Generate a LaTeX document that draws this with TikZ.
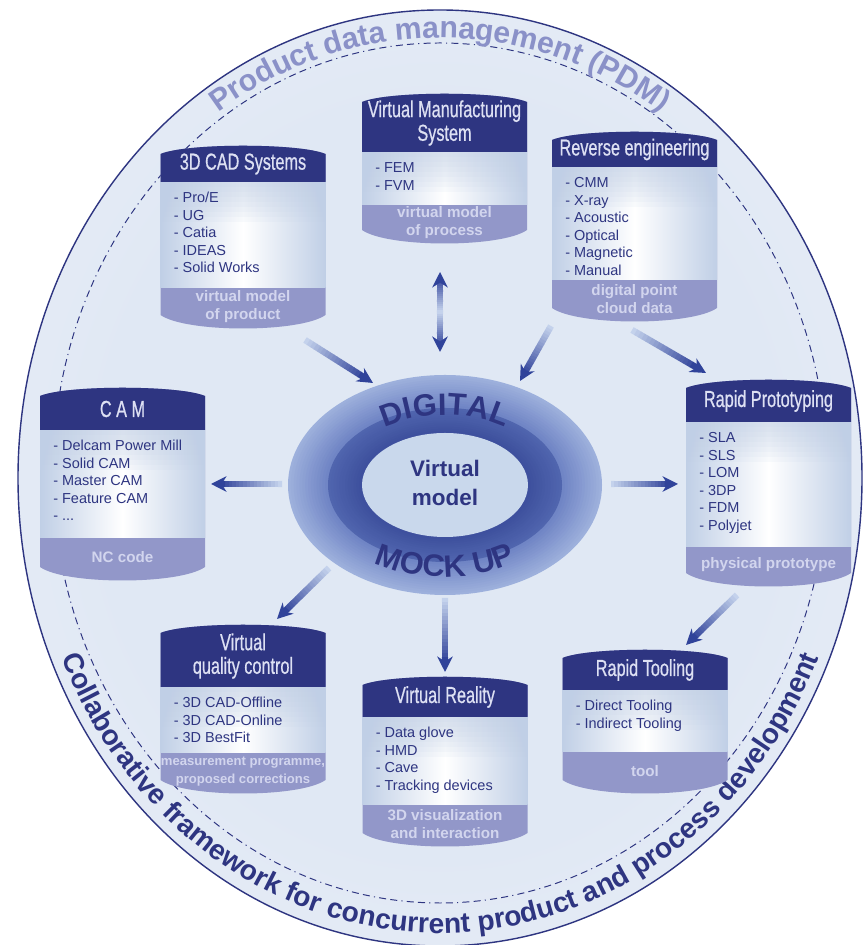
\documentclass[tikz,border=0pt]{standalone}
\usepackage{fontspec}
\setmainfont{Liberation Sans}
\newfontfamily\narrowfont[FakeStretch=0.70, FakeBold=0.6]{Liberation Sans}
\usetikzlibrary{calc,arrows.meta,decorations.text}

\definecolor{navy}{HTML}{2E3581}
\definecolor{headtext}{HTML}{DDE0F3}
\definecolor{band}{HTML}{9297C9}
\definecolor{bandtext}{HTML}{D2D5EE}
\definecolor{bodyedge}{HTML}{C0CFE6}
\definecolor{pdmtext}{HTML}{8A91C8}
\definecolor{arrowtail}{HTML}{C4D2EC}
\definecolor{arrowhead}{HTML}{30439A}
\definecolor{ringlight}{HTML}{9DB0DC}
\definecolor{ringmid}{HTML}{6C81C3}
\definecolor{ringdark}{HTML}{5065AE}
\definecolor{ringdeep}{HTML}{3C4E9C}
\definecolor{corelight}{HTML}{C9D8EC}
\definecolor{bgcore}{HTML}{E0E8F4}
\definecolor{bgedge}{HTML}{F4F7FB}

\pgfdeclareradialshading{frameglow}{\pgfpoint{0bp}{0bp}}{color(0bp)=(bgcore); color(20bp)=(bgcore); color(50bp)=(bgedge)}

\newcommand{\pdmfont}{\bfseries\fontsize{21.5}{24}\selectfont}
\newcommand{\cpdfont}{\bfseries\fontsize{20}{22}\selectfont}
\newcommand{\dmufont}{\bfseries\fontsize{22}{24}\selectfont}
\newcommand{\tightband}{\fontsize{9.3}{13.5}\selectfont}

% cylinder: name, centre x, top, header bottom, body bottom, bottom, title, items, output
\newcommand{\dbbox}[9]{%
  \fill[band] (#2-82.5,#6) -- (#2-82.5,#3)
    .. controls (#2-57,#3+11) and (#2+57,#3+11) .. (#2+82.5,#3)
    -- (#2+82.5,#6) .. controls (#2+57,#6-18) and (#2-57,#6-18) .. (#2-82.5,#6) -- cycle;
  \shade[left color=bodyedge, right color=bodyedge, middle color=white] (#2-82.5,#5) rectangle (#2+82.5,#4);
  \foreach \s in {1,...,8}
    \fill[bodyedge, opacity=0.1] (#2-82.5,#4) rectangle (#2+82.5,{#4-5*\s});
  \fill[navy] (#2-82.5,#4) -- (#2-82.5,#3)
    .. controls (#2-57,#3+11) and (#2+57,#3+11) .. (#2+82.5,#3) -- (#2+82.5,#4) -- cycle;
  \node[boxtitle] (#1-title) at (#2,{(#3+#4)/2+4}) {#7};
  \foreach \entry [count=\itemno] in {#8}
    \node[boxitem] (#1-item\itemno) at (#2-69.5,{#4-21-17.5*(\itemno-1)}) {- \entry};
  \node[boxoutput] (#1-output) at (#2,{(#5+#6)/2-5}) {#9};
}

% shaded arrow, light at the tail
\newcommand{\flowarrow}[2]{%
  \foreach \k in {0,...,15}{%
    \pgfmathsetmacro{\fa}{\k/20}
    \pgfmathsetmacro{\fb}{(\k+1)/20+0.005}
    \pgfmathtruncatemacro{\mixpc}{\k*6}
    \draw[line width=4.6pt, arrowhead!\mixpc!arrowtail] ($(#1)!\fa!(#2)$) -- ($(#1)!\fb!(#2)$);
  }
  \draw[line width=4.6pt, arrowhead, -{Stealth[length=11pt, width=11pt]}] ($(#1)!0.8!(#2)$) -- (#2);
}

\begin{document}
\begin{tikzpicture}[x=0.025cm, y=0.025cm,
    boxtitle/.style={text=headtext, font=\narrowfont\fontsize{16.5}{16.8}\selectfont, align=center, inner sep=0},
    boxitem/.style={text=navy, font=\fontsize{10.3}{12.4}\selectfont, inner sep=0, anchor=base west},
    boxoutput/.style={text=bandtext, font=\bfseries\fontsize{10.8}{12.8}\selectfont, align=center, inner sep=0}]

    \fill[white] (0,0) rectangle (866,945);
    \useasboundingbox (0,0) rectangle (866,945);

    % frame
    \shade[shading=frameglow] (440,467) ellipse [x radius=422, y radius=468];
    \draw[navy, line width=1pt] (440,467) ellipse [x radius=422, y radius=468];
    \draw[navy, line width=0.7pt, dash pattern=on 5pt off 3pt on 5pt off 3pt on 0.8pt off 3pt]
        (440,472) ellipse [x radius=387, y radius=430];

    \path[decorate, decoration={text along path, text={|\pdmfont|Product data management (PDM)},
        text align=center, text color=pdmtext}]
        (440,467) ++(160:398 and 440) arc [start angle=160, end angle=20, x radius=398, y radius=440];
    \path[decorate, decoration={text along path,
        text={|\cpdfont|Collaborative framework for concurrent product and process development},
        text align=center, text color=navy}]
        (440,467) ++(190:412 and 455) arc [start angle=190, end angle=350, x radius=412, y radius=455];

    % arrow ends
    \coordinate (cad-out) at (305,605);
    \coordinate (dmu-nw) at (373,562);
    \coordinate (vms-out) at (440,673);
    \coordinate (vms-mid) at (440,633);
    \coordinate (dmu-n) at (440,593);
    \coordinate (rev-out) at (551,619);
    \coordinate (dmu-ne) at (520,564);
    \coordinate (rev-rp) at (632,615);
    \coordinate (rp-in) at (706,572);
    \coordinate (dmu-w) at (282,461);
    \coordinate (cam-in) at (211,461);
    \coordinate (dmu-e) at (611,461);
    \coordinate (rp-w) at (678,461);
    \coordinate (dmu-sw) at (329,377);
    \coordinate (vqc-in) at (277,326);
    \coordinate (dmu-s) at (445,347);
    \coordinate (vr-in) at (445,273);
    \coordinate (rp-out) at (737,350);
    \coordinate (rt-in) at (686,300);

    \flowarrow{cad-out}{dmu-nw}
    \flowarrow{vms-mid}{vms-out}
    \flowarrow{vms-mid}{dmu-n}
    \flowarrow{rev-out}{dmu-ne}
    \flowarrow{rev-rp}{rp-in}
    \flowarrow{dmu-w}{cam-in}
    \flowarrow{dmu-e}{rp-w}
    \flowarrow{dmu-sw}{vqc-in}
    \flowarrow{dmu-s}{vr-in}
    \flowarrow{rp-out}{rt-in}

    % digital mock up: outer ring, dark ring, core
    \foreach \s in {0,...,14}{
        \pgfmathsetmacro{\rx}{157-40*\s/14}
        \pgfmathsetmacro{\ry}{110-33*\s/14}
        \pgfmathtruncatemacro{\pc}{100*\s/14}
        \fill[ringmid!\pc!ringlight] (445,460) ellipse [x radius=\rx, y radius=\ry];
    }
    \foreach \s in {0,...,12}{
        \pgfmathsetmacro{\rx}{117-34*\s/12}
        \pgfmathsetmacro{\ry}{77-25*\s/12}
        \pgfmathtruncatemacro{\pc}{100*\s/12}
        \fill[ringdeep!\pc!ringdark] (445,460) ellipse [x radius=\rx, y radius=\ry];
    }
    \fill[corelight] (445,460) ellipse [x radius=83, y radius=52];
    \node[font=\bfseries\fontsize{16}{20.5}\selectfont, text=navy, align=center] (core) at (445,462) {Virtual\\model};
    \path[decorate, decoration={text along path, text={|\dmufont|DIGITAL}, text align=center, text color=navy}]
        (445,460) ++(150:105 and 70) arc [start angle=150, end angle=30, x radius=105, y radius=70];
    \path[decorate, decoration={text along path, text={|\dmufont|MOCK UP}, text align=center, text color=navy}]
        (445,460) ++(205:132 and 92) arc [start angle=205, end angle=335, x radius=132, y radius=92];

    % the eight cylinders
    \dbbox{cad}{243}{791}{763}{657}{630}{3D CAD Systems}{Pro/E, UG, Catia, IDEAS, Solid Works}{virtual model\\of product}
    \dbbox{vms}{444.5}{843}{793}{740}{715}{Virtual Manufacturing\\System}{FEM, FVM}{virtual model\\of process}
    \dbbox{rev}{634.5}{805}{778}{665}{637}{Reverse engineering}{CMM, X-ray, Acoustic, Optical, Magnetic, Manual}{digital point\\cloud data}
    \dbbox{cam}{122.5}{549}{515}{407}{378}{C A M}{Delcam Power Mill, Solid CAM, Master CAM, Feature CAM, .{}.{}.}{NC code}
    \dbbox{rp}{768.5}{557}{523}{398}{372}{Rapid Prototyping}{SLA, SLS, LOM, 3DP, FDM, Polyjet}{physical prototype}
    \dbbox{vqc}{243}{312}{258}{192}{165}{Virtual\\quality control}{3D CAD-Offline, 3D CAD-Online, 3D BestFit}{{\tightband measurement programme,}\\{\tightband proposed corrections}}
    \dbbox{vr}{445}{260}{228}{140}{112}{Virtual Reality}{Data glove, HMD, Cave, Tracking devices}{3D visualization\\and interaction}
    \dbbox{rt}{645}{287}{255}{193}{165}{Rapid Tooling}{Direct Tooling, Indirect Tooling}{tool}

\end{tikzpicture}
\end{document}
